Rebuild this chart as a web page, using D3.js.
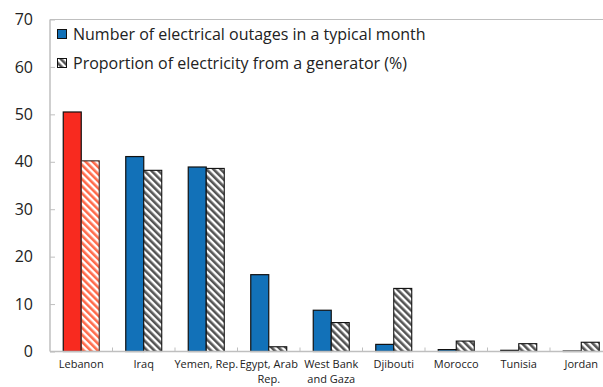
<!DOCTYPE html>
<html><head><meta charset="utf-8">
<script src="https://cdn.jsdelivr.net/npm/d3@7"></script>
<style>body{margin:0;background:#fff}svg{display:block;font-family:"Open Sans","Noto Sans",sans-serif}</style>
</head><body><svg id="c" width="603" height="387"></svg>
<script>
const categories = ["Lebanon","Iraq","Yemen, Rep.","Egypt, Arab Rep.","West Bank and Gaza","Djibouti","Morocco","Tunisia","Jordan"];
const categoryLines = [["Lebanon"],["Iraq"],["Yemen, Rep."],["Egypt, Arab","Rep."],["West Bank","and Gaza"],["Djibouti"],["Morocco"],["Tunisia"],["Jordan"]];
const outages = [50.5, 41.1, 38.9, 16.2, 8.7, 1.5, 0.4, 0.25, 0.1];
const generatorShare = [40.2, 38.2, 38.6, 1.0, 6.1, 13.3, 2.2, 1.65, 1.95];
const yTicks = [0,10,20,30,40,50,60,70];
const seriesNames = ["Number of electrical outages in a typical month","Proportion of electricity from a generator (%)"];

const svg = d3.select("#c");
const W = 603, H = 387;
const x0 = 50, x1 = 612.5, yTop = 19.5, yBot = 351.5;
const x = d3.scaleBand().domain(categories).range([x0, x1]).paddingInner(0).paddingOuter(0);
const y = d3.scaleLinear().domain([0,70]).range([yBot, yTop]);
const barW = 18;

const defs = svg.append("defs");
function hatch(id, bg, fg){
  const p = defs.append("pattern").attr("id", id).attr("patternUnits","userSpaceOnUse")
    .attr("width",5).attr("height",5).attr("patternTransform","rotate(-45)");
  p.append("rect").attr("width",5).attr("height",5).attr("fill",bg);
  p.append("rect").attr("x",0).attr("y",0).attr("width",2.6).attr("height",5).attr("fill",fg);
}
hatch("hG", "#ffffff", "#555555");
hatch("hR", "#ffffff", "#ff6a4a");

// frame lines
svg.append("line").attr("x1",x0).attr("x2",W).attr("y1",yTop).attr("y2",yTop).attr("stroke","#bfbfbf").attr("stroke-width",1.2);
svg.append("line").attr("x1",x0).attr("x2",x0).attr("y1",yTop).attr("y2",yBot).attr("stroke","#bfbfbf").attr("stroke-width",1.5);

// y ticks
const yAxis = d3.axisLeft(y).tickValues(yTicks).tickSize(-5).tickPadding(17).tickFormat(d3.format("d"));
const ga = svg.append("g").attr("transform",`translate(${x0},0)`).call(yAxis);
ga.select(".domain").remove();
ga.selectAll(".tick line").attr("stroke","#bfbfbf");
ga.selectAll("text").attr("font-size",16).attr("fill","#222").attr("font-family","'Open Sans',sans-serif");

// bars
const g = svg.append("g");
categories.forEach((c,i)=>{
  const cx = x(c) + x.bandwidth()/2;
  const isLeb = i===0;
  g.append("rect").attr("x",cx-barW).attr("y",y(outages[i])).attr("width",barW).attr("height",yBot-y(outages[i]))
    .attr("fill", isLeb ? "#f82a1f" : "#1271b8").attr("stroke","#111").attr("stroke-width",1.2);
  g.append("rect").attr("x",cx).attr("y",y(generatorShare[i])).attr("width",barW).attr("height",yBot-y(generatorShare[i]))
    .attr("fill", isLeb ? "url(#hR)" : "url(#hG)").attr("stroke", isLeb ? "#3a2a26" : "#111").attr("stroke-width",1.1);
});

// x axis baseline and ticks
svg.append("line").attr("x1",x0).attr("x2",W).attr("y1",yBot).attr("y2",yBot).attr("stroke","#bfbfbf").attr("stroke-width",1.5);
categories.forEach((c,i)=>{
  if(i>0) svg.append("line").attr("x1",x(c)).attr("x2",x(c)).attr("y1",yBot).attr("y2",yBot-4).attr("stroke","#bfbfbf");
});
// x labels
categories.forEach((c,i)=>{
  const cx = x(c) + x.bandwidth()/2;
  const t = svg.append("text").attr("x",cx).attr("y",368).attr("text-anchor","middle").attr("font-size",11).attr("fill","#222");
  categoryLines[i].forEach((ln,j)=> t.append("tspan").attr("x",cx).attr("dy", j===0?0:15).text(ln));
});

// legend
const lg = svg.append("g");
lg.append("rect").attr("x",57.5).attr("y",29.5).attr("width",9).attr("height",9).attr("fill","#1271b8").attr("stroke","#111");
lg.append("text").attr("x",73).attr("y",40).attr("font-size",16).attr("fill","#222").text(seriesNames[0]);
lg.append("rect").attr("x",57.5).attr("y",58.5).attr("width",9).attr("height",9).attr("fill","url(#hG)").attr("stroke","#111");
lg.append("text").attr("x",73).attr("y",69).attr("font-size",16).attr("fill","#222").text(seriesNames[1]);
</script></body></html>
